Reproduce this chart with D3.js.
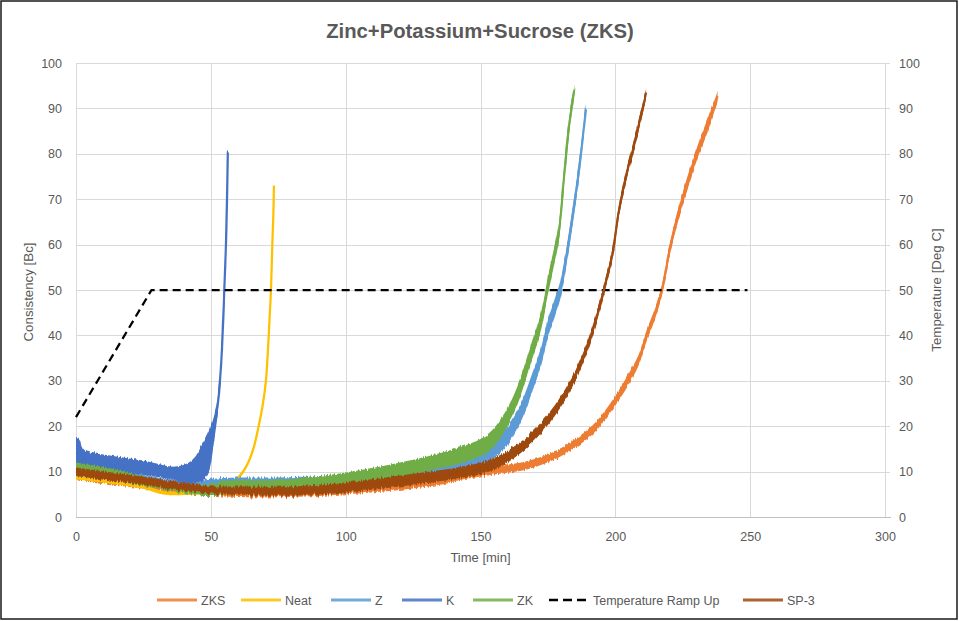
<!DOCTYPE html>
<html>
<head>
<meta charset="utf-8">
<script src="https://cdn.jsdelivr.net/npm/d3@7/dist/d3.min.js"></script>
<style>
  html, body { margin: 0; padding: 0; background: #fff; }
  svg { display: block; font-family: "Liberation Sans", Arial, sans-serif; }
</style>
</head>
<body>
<svg id="chart" width="959" height="621"></svg>
<script>
// ---------- data ----------
const chartTitle = "Zinc+Potassium+Sucrose (ZKS)";
const xTicks = [0, 50, 100, 150, 200, 250, 300];
const yTicks = [0, 10, 20, 30, 40, 50, 60, 70, 80, 90, 100];

// ZKS
const zksTime   = [0, 20, 40, 60, 80, 100, 125, 137.4, 142, 154.3, 166.7, 179, 191.4, 197.5, 203.7, 208.6, 211.1, 214.8, 217.3, 220.4, 223.5, 227.2, 230.9, 234.6, 237.9];
const zksValue  = [9.2, 7.5, 6, 5.3, 5.3, 5.9, 7.2, 8.3, 9, 10.2, 11.3, 14, 19.1, 23.5, 29.1, 34.5, 39.1, 45, 50, 59.7, 67, 74.4, 81, 86.9, 92.7];
const zksSpread = [0.9, 0.9, 0.9, 0.9, 0.9, 0.9, 0.9, 0.9, 0.9, 0.9, 0.9, 0.9, 1, 1, 1.2, 1.2, 1.2, 1.2, 1.2, 1.4, 1.4, 1.5, 1.5, 1.5, 1.2];

// Neat
const neatTime   = [0, 12, 24.4, 33, 43, 50, 55.5, 59.2, 62, 64.1, 66, 67.8, 69.2, 70.4, 71.2, 71.8, 72.3, 72.8, 73.2, 73.4];
const neatValue  = [8.7, 7.8, 6.7, 5.3, 5.3, 5.6, 6.8, 8.1, 10, 12.3, 15.5, 20.2, 24.5, 29.8, 37, 44, 50, 60, 67, 73];
const neatSpread = [0.4, 0.4, 0.4, 0.4, 0.4, 0.4, 0.4, 0.4, 0.4, 0.4, 0.4, 0.4, 0.4, 0.4, 0.4, 0.4, 0.4, 0.4, 0.4, 0.3];

// Z
const zTime   = [0, 10, 22.5, 35, 45, 50, 60, 75.6, 100, 125, 137.4, 142, 150, 154.3, 158, 161.7, 165.4, 169.1, 172.2, 175.3, 177.5, 179.6, 182.1, 184, 186.4, 189.1];
const zValue  = [10.2, 9.5, 8.3, 7.2, 7, 7.3, 7.5, 7.6, 8.2, 9.8, 11.3, 12, 13.5, 14.7, 16.6, 19.3, 23.6, 29.5, 34.9, 42.2, 46, 50, 58.2, 65.6, 75.8, 89.8];
const zSpread = [1.2, 1.2, 1.2, 1.1, 1.1, 1.1, 1.2, 1.1, 1.2, 1.7, 1.8, 1.8, 1.9, 2, 2, 2, 2, 2, 2, 2, 2, 2, 2, 2, 2, 1];

// K
const kTime   = [0, 1, 3.3, 12, 24.4, 36.8, 41.8, 44.5, 46.8, 49.3, 51, 52.2, 53.4, 54.2, 55, 55.6, 56, 56.3];
const kValue  = [14.2, 14, 12.8, 11.8, 10.9, 9.6, 9.7, 10.5, 12, 14.5, 19, 23, 30, 38, 50, 60, 70, 80.5];
const kSpread = [3.2, 3.2, 1.9, 1.8, 1.6, 1.5, 2.3, 3, 4, 4.5, 3, 2, 1.5, 1.2, 1, 1, 1, 0.5];

// ZK
const zkTime   = [0, 12, 24.4, 36.8, 49.3, 55.5, 67.8, 78, 100, 125, 137.4, 142, 150, 154.3, 158, 161.7, 165.4, 169.1, 172.2, 174.7, 176.5, 179, 180.9, 182.7, 184.8];
const zkValue  = [10.9, 9.6, 8, 6.6, 5.9, 6.5, 6.7, 7, 8.5, 11, 12.8, 13.5, 15.3, 17.1, 20, 24, 29.5, 36.7, 42.5, 50, 55.3, 62.6, 74.4, 85.4, 94.2];
const zkSpread = [1.1, 1.2, 1.1, 1, 1.3, 1.5, 1.4, 1.3, 1.3, 1.6, 1.7, 1.8, 1.9, 2, 2, 2, 2, 2, 2, 2, 2, 2, 2, 2, 1];

// Temperature Ramp Up (secondary axis)
const tempTime  = [0, 28, 249];
const tempValue = [22, 50, 50];

// SP-3
const sp3Time   = [0, 12, 24.4, 36.8, 50, 60, 78, 100, 125, 137.4, 142, 150, 158, 166.7, 172.8, 179, 184, 188.9, 192.6, 195.7, 198.8, 201.2, 203.7, 206.2, 208.6, 211.4];
const sp3Value  = [10, 9, 8, 6.9, 6, 5.8, 5.7, 6.5, 8.3, 9.3, 9.8, 10.7, 12.6, 16.2, 19.9, 24.7, 29.8, 36.4, 42.9, 50, 57.5, 67, 74.4, 80.2, 86.1, 93.5];
const sp3Spread = [0.9, 0.9, 0.9, 0.9, 0.8, 0.9, 1, 1.1, 1.2, 1.2, 1.2, 1.3, 1.3, 1.2, 1.2, 1.2, 1.2, 1.2, 1.2, 1.2, 1.2, 1.3, 1.3, 1.3, 1.3, 1];

const seriesNames  = ["ZKS", "Neat", "Z", "K", "ZK", "Temperature Ramp Up", "SP-3"];
const seriesColors = ["#ED7D31", "#FFC000", "#5B9BD5", "#4472C4", "#70AD47", "#000000", "#9E480E"];

// ---------- layout ----------
const svg = d3.select("#chart");
const W = 959, H = 621;
const plot = { left: 76, right: 885, top: 63, bottom: 517 };

const x  = d3.scaleLinear().domain([0, 300]).range([plot.left, plot.right]);
const y  = d3.scaleLinear().domain([0, 100]).range([plot.bottom, plot.top]);
const y2 = d3.scaleLinear().domain([0, 100]).range([plot.bottom, plot.top]);

const textColor = "#595959";
const gridColor = "#D9D9D9";

// jagged-edge filter for the measurement bands (visual style only)
const defs = svg.append("defs");
const filt = defs.append("filter").attr("id", "jag")
  .attr("filterUnits", "userSpaceOnUse")
  .attr("x", plot.left - 10).attr("y", plot.top - 20)
  .attr("width", plot.right - plot.left + 20).attr("height", plot.bottom - plot.top + 40);
filt.append("feTurbulence").attr("type", "fractalNoise")
  .attr("baseFrequency", "0.7 0.015").attr("numOctaves", 1).attr("seed", 7).attr("result", "n");
filt.append("feColorMatrix").attr("in", "n").attr("type", "matrix")
  .attr("values", "0 0 0 0 0.5  0 1 0 0 0  0 0 1 0 0  0 0 0 0 1").attr("result", "n2");
filt.append("feDisplacementMap").attr("in", "SourceGraphic").attr("in2", "n2")
  .attr("scale", 7).attr("xChannelSelector", "R").attr("yChannelSelector", "G");

// outer frame
svg.append("rect").attr("x", 1).attr("y", 1).attr("width", W - 3).attr("height", H - 3)
  .attr("fill", "#fff").attr("stroke", "#1a1a1a").attr("stroke-width", 1.5);

// title
svg.append("text").attr("x", 480).attr("y", 38).attr("text-anchor", "middle")
  .attr("font-size", 20.3).attr("font-weight", "bold").attr("fill", textColor).text(chartTitle);

// gridlines
const grid = svg.append("g");
grid.selectAll("line.h").data(yTicks).join("line")
  .attr("x1", plot.left).attr("x2", plot.right + 5)
  .attr("y1", d => Math.round(y(d)) + 0.5).attr("y2", d => Math.round(y(d)) + 0.5)
  .attr("stroke", gridColor).attr("stroke-width", 1);
grid.selectAll("line.v").data(xTicks).join("line")
  .attr("y1", plot.top).attr("y2", plot.bottom)
  .attr("x1", d => Math.round(x(d)) + 0.5).attr("x2", d => Math.round(x(d)) + 0.5)
  .attr("stroke", gridColor).attr("stroke-width", 1);

// axes (labels only, Excel style)
const axisBottom = d3.axisBottom(x).tickValues(xTicks).tickSize(0).tickPadding(15);
const gx = svg.append("g").attr("transform", `translate(0,${plot.bottom})`).call(axisBottom);
gx.select(".domain").attr("stroke", "#BFBFBF").attr("d", `M${plot.left},0.5H${plot.right + 6}`);

const axisLeft = d3.axisLeft(y).tickValues(yTicks).tickSize(0).tickPadding(14);
const gy = svg.append("g").attr("transform", `translate(${plot.left},0)`).call(axisLeft);
gy.select(".domain").remove();

const axisRight = d3.axisRight(y2).tickValues(yTicks).tickSize(0).tickPadding(14);
const gy2 = svg.append("g").attr("transform", `translate(${plot.right},0)`).call(axisRight);
gy2.select(".domain").remove();

[gx, gy, gy2].forEach(g => g.selectAll("text")
  .attr("fill", textColor).attr("font-size", 12.5)
  .attr("font-family", '"Liberation Sans", Arial, sans-serif'));

// axis titles
svg.append("text").attr("x", (plot.left + plot.right) / 2).attr("y", 562)
  .attr("text-anchor", "middle").attr("font-size", 13).attr("fill", textColor).text("Time [min]");
svg.append("text").attr("transform", `translate(33,${(plot.top + plot.bottom) / 2 + 2}) rotate(-90)`)
  .attr("text-anchor", "middle").attr("font-size", 13.3).attr("fill", textColor).text("Consistency [Bc]");
svg.append("text").attr("transform", `translate(941,${(plot.top + plot.bottom) / 2}) rotate(-90)`)
  .attr("text-anchor", "middle").attr("font-size", 13.3).attr("fill", textColor).text("Temperature [Deg C]");

// ---------- series ----------
function rows(t, v, s) { return t.map((d, i) => ({ t: d, v: v[i], s: s ? s[i] : 0 })); }

const data = {
  "ZKS":  rows(zksTime, zksValue, zksSpread),
  "Neat": rows(neatTime, neatValue, neatSpread),
  "Z":    rows(zTime, zValue, zSpread),
  "K":    rows(kTime, kValue, kSpread),
  "ZK":   rows(zkTime, zkValue, zkSpread),
  "Temperature Ramp Up": rows(tempTime, tempValue, null),
  "SP-3": rows(sp3Time, sp3Value, sp3Spread)
};

const curve = d3.curveCatmullRom.alpha(0.5);
const band = d3.area().curve(curve)
  .x(d => x(d.t)).y0(d => y(d.v - d.s)).y1(d => y(d.v + d.s));
const line = d3.line().curve(curve).x(d => x(d.t)).y(d => y(d.v));
const line2 = d3.line().x(d => x(d.t)).y(d => y2(d.v));

const plotG = svg.append("g");
seriesNames.forEach((name, i) => {
  const col = seriesColors[i];
  const rs = data[name];
  if (name === "Temperature Ramp Up") {
    plotG.append("path").datum(rs).attr("d", line2)
      .attr("fill", "none").attr("stroke", col).attr("stroke-width", 2.25)
      .attr("stroke-dasharray", "8,5");
  } else {
    const g = plotG.append("g").attr("filter", name === "Neat" ? null : "url(#jag)");
    g.append("path").datum(rs).attr("d", band).attr("fill", col).attr("stroke", "none");
    g.append("path").datum(rs).attr("d", line)
      .attr("fill", "none").attr("stroke", col).attr("stroke-width", 2.25)
      .attr("stroke-linejoin", "round");
  }
});

// ---------- legend ----------
const legendX = [157, 241, 331, 402, 473, 549, 743];
const legend = svg.append("g");
seriesNames.forEach((name, i) => {
  const lx = legendX[i], ly = 600;
  const isTemp = name === "Temperature Ramp Up";
  legend.append("line").attr("x1", lx).attr("x2", lx + 40).attr("y1", ly).attr("y2", ly)
    .attr("stroke", seriesColors[i]).attr("stroke-width", isTemp ? 2.5 : 3)
    .attr("stroke-dasharray", isTemp ? "9,5" : null)
    .attr("opacity", isTemp ? 1 : 0.85);
  legend.append("text").attr("x", lx + 44).attr("y", ly + 4.5)
    .attr("font-size", 12.5).attr("fill", textColor).text(name);
});
</script>
</body>
</html>
